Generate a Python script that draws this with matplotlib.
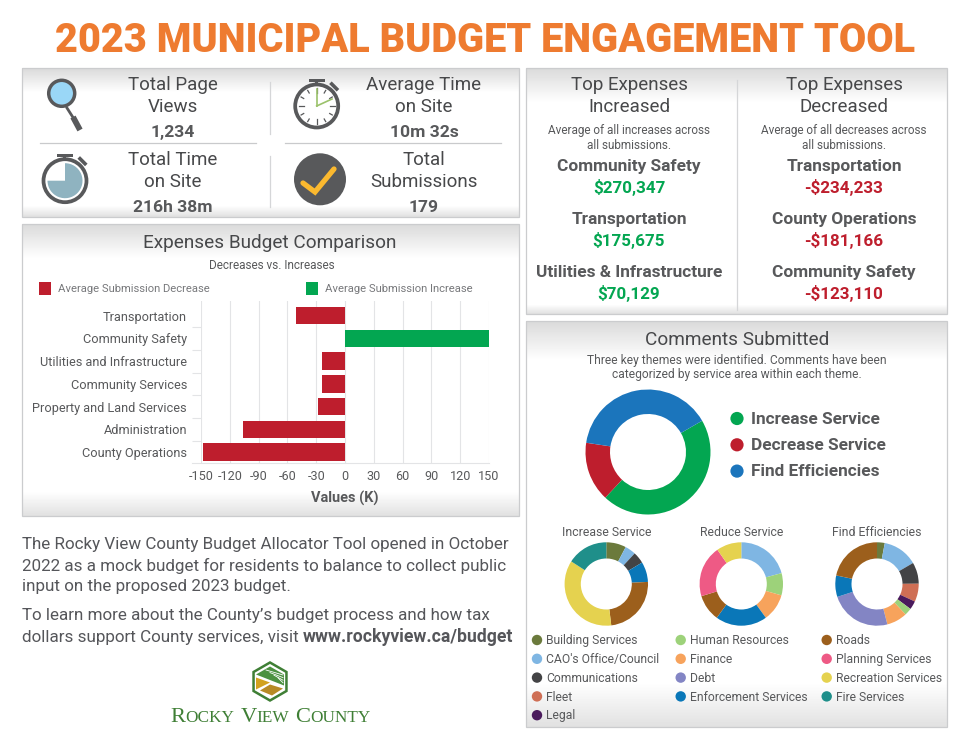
import numpy as np
import matplotlib
matplotlib.use("Agg")
import matplotlib.pyplot as plt
from matplotlib.patches import Rectangle, Circle, Wedge, Polygon

plt.rcParams['font.family'] = ['Roboto', 'DejaVu Sans']

W, H = 970, 750
PT = 72 / 100  # px -> pt at dpi 100

# --- Data ---
title = "2023 MUNICIPAL BUDGET ENGAGEMENT TOOL"

categories = ["Transportation", "Community Safety", "Utilities and Infrastructure",
              "Community Services", "Property and Land Services", "Administration",
              "County Operations"]
decrease_k = [-51, 0, -24, -24, -28.5, -106, -148]
increase_k = [0, 150, 0, 0, 0, 0, 0]
x_ticks = [-150, -120, -90, -60, -30, 0, 30, 60, 90, 120, 150]

theme_names = ["Increase Service", "Decrease Service", "Find Efficiencies"]
theme_values = [45.3, 15.4, 39.3]
theme_colors = ["#03a651", "#be1e2d", "#1b75bc"]

service_names = ["Building Services", "CAO's Office/Council", "Communications", "Fleet", "Legal",
                 "Human Resources", "Finance", "Debt", "Enforcement Services",
                 "Roads", "Planning Services", "Recreation Services", "Fire Services"]
service_colors = ["#6b7a3c", "#7fb6e3", "#434345", "#cf6f55", "#4a1a5c",
                  "#9dd27a", "#f7a35c", "#8385c4", "#0a77b8",
                  "#9c5f1c", "#ee5a85", "#e5d24f", "#1f8f8a"]

increase_order = ["Building Services", "CAO's Office/Council", "Communications",
                  "Enforcement Services", "Roads", "Recreation Services", "Fire Services"]
increase_share = [7.7, 4.2, 4.5, 7.8, 23.9, 36.0, 15.9]
reduce_order = ["CAO's Office/Council", "Human Resources", "Finance", "Enforcement Services",
                "Roads", "Planning Services", "Recreation Services"]
reduce_share = [20.8, 8.6, 10.6, 20.0, 10.3, 20.0, 9.7]
find_order = ["Building Services", "CAO's Office/Council", "Communications", "Fleet", "Legal",
              "Human Resources", "Finance", "Debt", "Enforcement Services", "Roads"]
find_share = [3.0, 13.6, 8.3, 7.0, 3.3, 2.8, 8.0, 24.0, 8.3, 21.7]

stats = [("Total Page", "Views", "1,234"), ("Average Time", "on Site", "10m 32s"),
         ("Total Time", "on Site", "216h 38m"), ("Total", "Submissions", "179")]

top_increased = [("Community Safety", "$270,347"), ("Transportation", "$175,675"),
                 ("Utilities & Infrastructure", "$70,129")]
top_decreased = [("Transportation", "-$234,233"), ("County Operations", "-$181,166"),
                 ("Community Safety", "-$123,110")]

DARK = "#47484a"
GREY = "#58595b"
GREEN = "#03a651"
RED = "#be1e2d"

fig = plt.figure(figsize=(W / 100, H / 100), dpi=100, facecolor="white")
bg = fig.add_axes([0, 0, 1, 1])
bg.axis("off")
bg.set_xlim(0, W)
bg.set_ylim(H, 0)
bg.set_autoscale_on(False)


def sub_axes(x0, y0, x1, y1):
    a = fig.add_axes([x0 / W, 1 - y1 / H, (x1 - x0) / W, (y1 - y0) / H])
    a.patch.set_alpha(0)
    return a


def txt(x, y, s, px, color=DARK, weight="normal", ha="center", **kw):
    return bg.text(x, y + 1.3, s, fontsize=px * PT, color=color, weight=weight, ha=ha,
                   va="center", zorder=5, **kw)


def panel(x0, y0, x1, y1, fade_top, fade_bot, top_col=218, bot_col=225):
    n = y1 - y0
    g = np.full(n, 255.0)
    g[:fade_top] = np.linspace(top_col, 255, fade_top)
    g[-fade_bot:] = np.linspace(255, bot_col, fade_bot)
    bg.imshow(g[:, None], cmap="gray", vmin=0, vmax=255, aspect="auto",
              extent=[x0, x1, y1, y0], zorder=1)
    bg.add_patch(Rectangle((x0, y0), x1 - x0, y1 - y0, fill=False, ec="#cbccce", lw=0.9, zorder=2))


panel(22, 68, 519, 217, 25, 12)
panel(22, 224, 519, 516, 35, 25)
panel(526, 68, 947, 314, 35, 10)
panel(526, 321, 947, 727, 40, 45)

txt(485, 39.5, title, 39.6, color="#ee7b30", weight="black")

# --- Top left stats ---
stat_pos = [(172.7, 84), (424, 84), (172.7, 159), (424, 159)]
for (x, y), (l1, l2, val) in zip(stat_pos, stats):
    txt(x, y, l1, 18.8)
    txt(x, y + 21.5, l2, 18.8)
    txt(x, y + 47, val, 17.5, color=GREY, weight="bold")

for x0, x1 in [(40, 256), (285, 501)]:
    bg.plot([x0, x1], [143.3, 143.3], color="#c9cacc", lw=0.9, zorder=3)
for y0, y1 in [(82, 134), (156, 207)]:
    bg.plot([270, 270], [y0, y1], color="#d5d6d8", lw=0.9, zorder=3)

ICON = "#58595b"
# magnifier
bg.plot([67, 74], [108, 119], color=ICON, lw=2, zorder=3)
bg.plot([73, 80], [117, 130], color=ICON, lw=4.2, zorder=3, solid_capstyle="butt")
bg.add_patch(Circle((61.7, 93.3), 13, fc="#9ad7f7", ec=ICON, lw=2.5, zorder=4))


def stopwatch(cx, cy):
    bg.add_patch(Circle((cx, cy), 21.5, fc="white", ec=ICON, lw=2.7, zorder=3))
    bg.add_patch(Rectangle((cx - 8, cy - 27), 16, 3.2, fc=ICON, ec="none", zorder=3))
    bg.add_patch(Rectangle((cx - 1.5, cy - 25), 3, 4, fc=ICON, ec="none", zorder=3))
    bg.plot([cx + 15, cx + 20], [cy - 22, cy - 17], color=ICON, lw=2.6, zorder=3)


stopwatch(316.7, 106)
for a in np.arange(0, 360, 30):
    c, s = np.cos(np.radians(a)), np.sin(np.radians(a))
    r0 = 13 if a % 90 == 0 else 15
    bg.plot([316.7 + r0 * c, 316.7 + 18 * c], [106 + r0 * s, 106 + 18 * s], color=ICON, lw=0.9, zorder=4)
bg.plot([316.7, 316.7], [106, 89], color="#9bc26b", lw=1.2, zorder=4)
bg.plot([316.7, 332], [106, 99], color="#9bc26b", lw=1.2, zorder=4)

stopwatch(65, 180.7)
# y axis is inverted, so angles run clockwise on screen
bg.add_patch(Wedge((65, 180.7), 17.5, -90, 180, fc="#8fb3c0", ec="none", zorder=4))

bg.add_patch(Circle((320, 179.3), 26, fc=ICON, ec="none", zorder=3))
bg.plot([303, 315, 334], [183, 192, 169], color="#fbb92f", lw=3.8, zorder=4,
        solid_capstyle="round", solid_joinstyle="miter")

# --- Top expenses ---
for x, head, word, rows, col in [
        (629, "Increased", "increases", top_increased, GREEN),
        (844, "Decreased", "decreases", top_decreased, RED)]:
    txt(x, 84, "Top Expenses", 18.8)
    txt(x, 105.5, head, 18.8)
    txt(x, 129, f"Average of all {word} across", 11.8, color=GREY)
    txt(x, 144, "all submissions.", 11.8, color=GREY)
    for i, (name, val) in enumerate(rows):
        txt(x, 165 + 53 * i, name, 17.3, color=GREY, weight="bold")
        txt(x, 186 + 53 * i, val, 17, color=col, weight="bold")
bg.plot([737, 737], [80, 310], color="#d5d6d8", lw=0.9, zorder=3)

# --- Bar chart ---
txt(270, 242, "Expenses Budget Comparison", 19, )
txt(272, 264, "Decreases vs. Increases", 11.8, color=GREY)
for x_sw, x_t, c, s in [(39, 58, RED, "Average Submission Decrease"),
                        (306, 325, GREEN, "Average Submission Increase")]:
    bg.add_patch(Rectangle((x_sw, 282), 12.5, 12.5, fc=c, ec="none", zorder=3))
    txt(x_t, 287.5, s, 11.3, color="#77787b", ha="left")

bar_ax = sub_axes(201, 301, 489, 463.3)
y = np.arange(len(categories))
bar_ax.barh(y, decrease_k, height=0.77, color=RED, zorder=3)
bar_ax.barh(y, increase_k, height=0.77, color=GREEN, zorder=3)
bar_ax.set_xlim(-150, 150)
bar_ax.set_ylim(6.5, -0.65)
bar_ax.set_xticks(x_ticks)
bar_ax.set_xticklabels([str(v) for v in x_ticks], fontsize=12.6 * PT, color=GREY)
bar_ax.set_yticks(y)
bar_ax.set_yticklabels(categories, fontsize=12.8 * PT, color=GREY)
bar_ax.set_yticks(y[:-1] + 0.5, minor=True)
bar_ax.tick_params(axis="x", length=0, pad=5)
bar_ax.tick_params(axis="y", which="major", length=0, pad=10)
bar_ax.tick_params(axis="y", which="minor", length=6.5, color="#e3e4e6", width=0.8)
bar_ax.grid(axis="x", color="#e3e4e6", lw=0.8, zorder=0)
for name, sp in bar_ax.spines.items():
    sp.set_visible(False)
bg.plot([192, 489], [463.3, 463.3], color="#e3e4e6", lw=0.8, zorder=3)
txt(345, 497, "Values (K)", 14.5, color=GREY, weight="bold")

# --- Text block ---
TXT = "#55565a"
lines = ["The Rocky View County Budget Allocator Tool opened in October",
         "2022 as a mock budget for residents to balance to collect public",
         "input on the proposed 2023 budget."]
for i, s in enumerate(lines):
    txt(22, 543.5 + 21 * i, s, 17.05, color=TXT, ha="left")
txt(22, 614.5, "To learn more about the County\u2019s budget process and how tax", 17.05, color=TXT, ha="left")
r = fig.canvas.get_renderer()
t = txt(22, 636, "dollars support County services, visit ", 17.05, color=TXT, ha="left")
bx = bg.transData.inverted().transform(t.get_window_extent(r))[1, 0]
txt(bx, 636, "www.rockyview.ca/budget", 17.6, color=TXT, weight="bold", ha="left")

# --- Logo ---
LOGO = "#3f7f35"
hx, hy, hr = 270, 681.5, 19
hex_pts = [(hx + hr * np.sin(np.radians(a)), hy - hr * np.cos(np.radians(a))) for a in range(0, 360, 60)]
bg.add_patch(Polygon(hex_pts, closed=True, fc="white", ec=LOGO, lw=1.8, zorder=3))
bg.add_patch(Polygon([(hx - 14, hy - 7), (hx, hy - 15), (hx + 14, hy - 7), (hx + 14, hy + 4)],
                     closed=True, fc="#4c9140", ec="none", zorder=4))
bg.add_patch(Polygon([(hx - 14, hy - 4), (hx - 14, hy + 8), (hx, hy + 1)],
                     closed=True, fc="#d2a21f", ec="none", zorder=4))
bg.add_patch(Polygon([(hx - 10, hy + 9), (hx, hy + 3), (hx + 13, hy + 7), (hx + 2, hy + 14)],
                     closed=True, fc="#b78a25", ec="none", zorder=4))
for k in range(4):
    bg.plot([hx - 4 + 4 * k, hx + 13], [hy - 11.5 + 2.6 * k, hy - 6.5 + 2.6 * k], color="white", lw=0.6, zorder=5)
lx = 170.5
for s, px, gap in [("R", 22.5, 0), ("OCKY", 17.3, 6.5), ("V", 22.5, -1), ("IEW", 17.3, 6.5), ("C", 22.5, 0), ("OUNTY", 17.3, 0)]:
    t = bg.text(lx, 722, s, fontsize=px * PT, color=LOGO, family="Liberation Serif",
                ha="left", va="baseline", zorder=5)
    lx = bg.transData.inverted().transform(t.get_window_extent(r))[1, 0] + gap

# --- Comments ---
txt(737, 339, "Comments Submitted", 19)
txt(737, 359, "Three key themes were identified. Comments have been", 12.05, color=GREY)
txt(737, 373.5, "categorized by service area within each theme.", 12.05, color=GREY)


def donut(cx, cy, radius, inner, values, colors, start=90):
    m = 1.03
    a = sub_axes(cx - radius * m, cy - radius * m, cx + radius * m, cy + radius * m)
    a.pie(values, colors=colors, startangle=start, counterclock=False, radius=1,
          wedgeprops={"width": 1 - inner / radius, "linewidth": 0})
    a.set_xlim(-m, m)
    a.set_ylim(-m, m)


donut(648, 452, 62.5, 38, theme_values, theme_colors, start=30)
for i, (name, c) in enumerate(zip(theme_names, theme_colors)):
    yy = 418.5 + 26.3 * i
    bg.add_patch(Circle((737, yy), 6.6, fc=c, ec="none", zorder=3))
    txt(751, yy - 0.5, name, 17.3, color=GREY, weight="bold", ha="left")

color_of = dict(zip(service_names, service_colors))
small = [(606.3, "Increase Service", increase_order, increase_share),
         (741.3, "Reduce Service", reduce_order, reduce_share),
         (877, "Find Efficiencies", find_order, find_share)]
for cx, name, order, share in small:
    txt(cx, 531, name, 12.3, color=GREY)
    donut(cx, 584, 41.7, 25.5, share, [color_of[n] for n in order])

col_x = [537, 680.7, 826.7]
col_rows = [5, 4, 4]
k = 0
for xc, rows in zip(col_x, col_rows):
    for i in range(rows):
        yy = 640 + 18.8 * i
        bg.add_patch(Circle((xc, yy), 5.2, fc=service_colors[k], ec="none", zorder=3))
        txt(xc + 9.5, yy - 0.5, service_names[k], 12.1, color=GREY, ha="left")
        k += 1

fig.savefig("out.png", dpi=100)
